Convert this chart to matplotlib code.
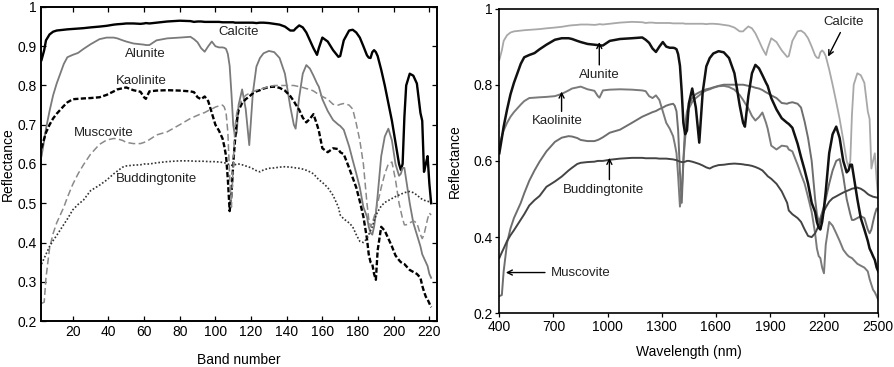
import numpy as np
import matplotlib
matplotlib.use("Agg")
import matplotlib.pyplot as plt

plt.rcParams['font.family'] = ['Liberation Sans', 'DejaVu Sans']

# ---- data: shared band grid, matching wavelength (nm) of each band ----
bands = [2.5, 4, 5, 7, 9, 11, 13, 15, 17, 20,
         23, 26, 30, 35, 39, 43, 45, 48, 50, 54,
         58, 60, 61, 63, 67, 73, 80, 86, 88, 90,
         92, 94, 96, 98, 100, 102, 104, 105, 106, 107,
         108, 109, 110, 111, 112, 113, 115, 117, 119, 121,
         123, 125, 127, 130, 133, 136, 139, 142, 144, 145,
         147, 149, 151, 153, 155, 157, 158, 160, 163, 166,
         169, 170, 172, 175, 177, 179, 181, 183, 185, 186,
         187, 188, 189, 190, 191, 193, 195, 197, 199, 201,
         203, 204, 205, 206, 207, 209, 211, 213, 215, 216,
         217, 218, 219, 220, 221]

wavelength = [400, 414, 424, 443, 462, 481, 500, 519, 538, 566,
              595, 623, 661, 708, 746, 784, 803, 832, 851, 889,
              927, 946, 955, 974, 1012, 1069, 1135, 1192, 1211, 1230,
              1249, 1268, 1287, 1306, 1325, 1344, 1363, 1372, 1382, 1391,
              1401, 1411, 1420, 1430, 1440, 1450, 1469, 1489, 1508, 1527,
              1547, 1566, 1586, 1615, 1644, 1673, 1703, 1732, 1751, 1761,
              1780, 1800, 1819, 1839, 1858, 1878, 1887, 1907, 1936, 1965,
              1995, 2004, 2024, 2053, 2072, 2092, 2111, 2131, 2150, 2160,
              2170, 2179, 2189, 2199, 2209, 2228, 2247, 2267, 2286, 2306,
              2325, 2335, 2345, 2354, 2364, 2384, 2403, 2423, 2442, 2452,
              2462, 2471, 2481, 2491, 2500]

calcite = [0.865, 0.89, 0.915, 0.93, 0.937, 0.94, 0.941, 0.942, 0.943, 0.944,
           0.945, 0.946, 0.948, 0.95, 0.952, 0.955, 0.956, 0.957, 0.958, 0.958,
           0.957, 0.958, 0.959, 0.958, 0.96, 0.963, 0.965, 0.964, 0.962, 0.963,
           0.963, 0.962, 0.962, 0.962, 0.962, 0.962, 0.961, 0.961, 0.961, 0.961,
           0.961, 0.961, 0.961, 0.96, 0.96, 0.96, 0.96, 0.96, 0.96, 0.96,
           0.959, 0.96, 0.96, 0.959, 0.957, 0.955, 0.95, 0.94, 0.94, 0.945,
           0.953, 0.948, 0.935, 0.915, 0.895, 0.878, 0.895, 0.922, 0.912, 0.89,
           0.873, 0.875, 0.915, 0.94, 0.942, 0.935, 0.922, 0.9, 0.877, 0.871,
           0.87, 0.885, 0.89, 0.885, 0.875, 0.84, 0.8, 0.755, 0.71, 0.655,
           0.6, 0.585, 0.6, 0.72, 0.8, 0.83, 0.825, 0.805, 0.73, 0.71,
           0.58, 0.6, 0.62, 0.55, 0.5]

alunite = [0.62, 0.66, 0.69, 0.735, 0.775, 0.805, 0.83, 0.855, 0.872, 0.878,
           0.883, 0.893, 0.905, 0.918, 0.922, 0.922, 0.92, 0.915, 0.912, 0.907,
           0.905, 0.904, 0.903, 0.903, 0.915, 0.92, 0.922, 0.924, 0.918, 0.91,
           0.895, 0.886, 0.9, 0.912, 0.9, 0.897, 0.897, 0.896, 0.893, 0.88,
           0.85, 0.78, 0.7, 0.67, 0.68, 0.75, 0.79, 0.74, 0.648, 0.78,
           0.848, 0.87, 0.882, 0.888, 0.885, 0.87, 0.83, 0.746, 0.7, 0.69,
           0.77, 0.83, 0.852, 0.843, 0.825, 0.805, 0.797, 0.765, 0.735, 0.712,
           0.7, 0.697, 0.687, 0.645, 0.61, 0.576, 0.54, 0.49, 0.466, 0.44,
           0.425, 0.42, 0.44, 0.475, 0.52, 0.62, 0.67, 0.69, 0.66, 0.6,
           0.57, 0.575, 0.59, 0.59, 0.56, 0.5, 0.45, 0.42, 0.39, 0.37,
           0.36, 0.35, 0.34, 0.32, 0.31]

kaolinite = [0.64, 0.665, 0.68, 0.7, 0.716, 0.728, 0.738, 0.748, 0.757, 0.765,
             0.766, 0.767, 0.768, 0.77, 0.776, 0.785, 0.79, 0.793, 0.795, 0.788,
             0.784, 0.77, 0.766, 0.785, 0.787, 0.788, 0.787, 0.785, 0.783, 0.77,
             0.765, 0.772, 0.76, 0.73, 0.7, 0.685, 0.665, 0.645, 0.62, 0.56,
             0.48, 0.52, 0.6, 0.66, 0.71, 0.737, 0.755, 0.765, 0.772, 0.78,
             0.785, 0.788, 0.792, 0.796, 0.797, 0.794, 0.787, 0.773, 0.76, 0.752,
             0.738, 0.718, 0.706, 0.715, 0.727, 0.7, 0.685, 0.64, 0.63, 0.64,
             0.638, 0.63, 0.625, 0.59, 0.565, 0.54, 0.505, 0.466, 0.41, 0.37,
             0.35, 0.345, 0.32, 0.305, 0.38, 0.44, 0.43, 0.41, 0.39, 0.367,
             0.355, 0.35, 0.347, 0.345, 0.34, 0.33, 0.325, 0.32, 0.31, 0.29,
             0.275, 0.262, 0.255, 0.245, 0.235]

muscovite = [0.245, 0.248, 0.31, 0.385, 0.423, 0.45, 0.47, 0.49, 0.515, 0.548,
             0.575, 0.598, 0.625, 0.65, 0.661, 0.665, 0.664, 0.66, 0.655, 0.652,
             0.652, 0.655, 0.657, 0.662, 0.674, 0.682, 0.7, 0.716, 0.72, 0.724,
             0.728, 0.731, 0.736, 0.74, 0.745, 0.748, 0.75, 0.745, 0.73, 0.68,
             0.57, 0.49, 0.6, 0.695, 0.73, 0.746, 0.765, 0.775, 0.78, 0.784,
             0.788, 0.79, 0.793, 0.797, 0.8, 0.8, 0.8, 0.8, 0.8, 0.799,
             0.797, 0.795, 0.792, 0.79, 0.786, 0.78, 0.778, 0.772, 0.765, 0.752,
             0.75, 0.752, 0.754, 0.75, 0.74, 0.703, 0.66, 0.6, 0.5, 0.46,
             0.44, 0.45, 0.465, 0.48, 0.5, 0.54, 0.575, 0.6, 0.605, 0.56,
             0.5, 0.48, 0.46, 0.445, 0.445, 0.45, 0.455, 0.45, 0.42, 0.41,
             0.42, 0.44, 0.46, 0.475, 0.47]

buddingtonite = [0.345, 0.36, 0.37, 0.39, 0.405, 0.418, 0.432, 0.446, 0.46, 0.483,
                 0.497, 0.508, 0.532, 0.546, 0.559, 0.575, 0.582, 0.592, 0.595, 0.597,
                 0.598, 0.6, 0.6, 0.6, 0.603, 0.606, 0.608, 0.608, 0.607, 0.607,
                 0.607, 0.607, 0.606, 0.606, 0.606, 0.605, 0.604, 0.603, 0.602, 0.6,
                 0.598, 0.597, 0.597, 0.598, 0.6, 0.6, 0.598, 0.595, 0.592, 0.588,
                 0.583, 0.58, 0.585, 0.589, 0.59, 0.592, 0.593, 0.592, 0.591, 0.59,
                 0.589, 0.587, 0.584, 0.58, 0.575, 0.565, 0.56, 0.553, 0.54, 0.52,
                 0.49, 0.47, 0.46, 0.45, 0.44, 0.42, 0.403, 0.4, 0.41, 0.42,
                 0.43, 0.44, 0.455, 0.468, 0.478, 0.493, 0.502, 0.507, 0.512, 0.517,
                 0.521, 0.523, 0.525, 0.527, 0.528, 0.53, 0.527, 0.521, 0.513, 0.51,
                 0.508, 0.506, 0.505, 0.504, 0.503]

names = ['Calcite', 'Alunite', 'Kaolinite', 'Muscovite', 'Buddingtonite']
left_xticks = [20, 40, 60, 80, 100, 120, 140, 160, 180, 200, 220]
left_yticks = [0.2, 0.3, 0.4, 0.5, 0.6, 0.7, 0.8, 0.9, 1.0]
left_yticklabels = ['0.2', '0.3', '0.4', '0.5', '0.6', '0.7', '0.8', '0.9', '1']
right_xticks = [400, 700, 1000, 1300, 1600, 1900, 2200, 2500]
right_yticks = [0.2, 0.4, 0.6, 0.8, 1.0]
right_yticklabels = ['0.2', '0.4', '0.6', '0.8', '1']

FS = 10
fig = plt.figure(figsize=(8.95, 3.67), dpi=100)

# ---------------- left panel ----------------
ax1 = fig.add_axes([0.0458, 0.1253, 0.4425, 0.8557])
ax1.plot(bands, calcite, color='black', lw=1.7, solid_joinstyle='round')
ax1.plot(bands, alunite, color='#7a7a7a', lw=1.3)
ax1.plot(bands, kaolinite, color='black', lw=1.7, dashes=(2.2, 1.0))
ax1.plot(bands, muscovite, color='#8a8a8a', lw=1.1, dashes=(4.5, 2.2))
ax1.plot(bands, buddingtonite, color='#333333', lw=1.2, dashes=(1.0, 1.2))
ax1.set_xlim(2.2, 224.3)
ax1.set_ylim(0.2, 1.0)
ax1.set_xticks(left_xticks)
ax1.set_yticks(left_yticks)
ax1.set_yticklabels(left_yticklabels)
ax1.tick_params(direction='in', top=True, right=True, length=3.5, width=0.9,
                labelsize=FS, pad=3)
for s in ax1.spines.values():
    s.set_linewidth(1.4)
ax1.set_xlabel('Band number', fontsize=FS, labelpad=10)
ax1.set_ylabel('Reflectance', fontsize=FS, labelpad=2)

lab_kw = dict(fontsize=9.5, ha='center', va='center', color='#222222')
ax1.text(112.9, 0.935, 'Calcite', **lab_kw)
ax1.text(60.6, 0.880, 'Alunite', **lab_kw)
ax1.text(58.7, 0.811, 'Kaolinite', **lab_kw)
ax1.text(37.2, 0.680, 'Muscovite', **lab_kw)
ax1.text(67.1, 0.563, 'Buddingtonite', **lab_kw)

# ---------------- right panel ----------------
ax2 = fig.add_axes([0.5579, 0.1463, 0.4234, 0.8305])
ax2.plot(wavelength, calcite, color='#a8a8a8', lw=1.3)
ax2.plot(wavelength, kaolinite, color='#7a7a7a', lw=1.4)
ax2.plot(wavelength, muscovite, color='#6e6e6e', lw=1.4)
ax2.plot(wavelength, buddingtonite, color='#444444', lw=1.4)
ax2.plot(wavelength, alunite, color='#111111', lw=1.8)
ax2.set_xlim(400, 2500)
ax2.set_ylim(0.2, 1.0)
ax2.set_xticks(right_xticks)
ax2.set_yticks(right_yticks)
ax2.set_yticklabels(right_yticklabels)
ax2.tick_params(direction='out', length=3, width=0.9, labelsize=FS, pad=2)
for s in ax2.spines.values():
    s.set_linewidth(1.2)
ax2.set_xlabel('Wavelength (nm)', fontsize=FS, labelpad=8)
ax2.set_ylabel('Reflectance', fontsize=FS, labelpad=8)

arr = dict(arrowstyle='->', lw=1.0, color='black', shrinkA=0, shrinkB=0,
           mutation_scale=9)
ax2.text(2306, 0.965, 'Calcite', **lab_kw)
ax2.annotate('', xy=(2222, 0.874), xytext=(2290, 0.937), arrowprops=arr)
ax2.text(954, 0.825, 'Alunite', **lab_kw)
ax2.annotate('', xy=(954, 0.912), xytext=(954, 0.852), arrowprops=arr)
ax2.text(723, 0.704, 'Kaolinite', **lab_kw)
ax2.annotate('', xy=(745, 0.782), xytext=(745, 0.730), arrowprops=arr)
ax2.text(976, 0.523, 'Buddingtonite', **lab_kw)
ax2.annotate('', xy=(1010, 0.608), xytext=(1010, 0.551), arrowprops=arr)
ax2.text(852, 0.307, 'Muscovite', **lab_kw)
ax2.annotate('', xy=(436, 0.307), xytext=(653, 0.307), arrowprops=arr)

fig.savefig('out.png', dpi=100)
